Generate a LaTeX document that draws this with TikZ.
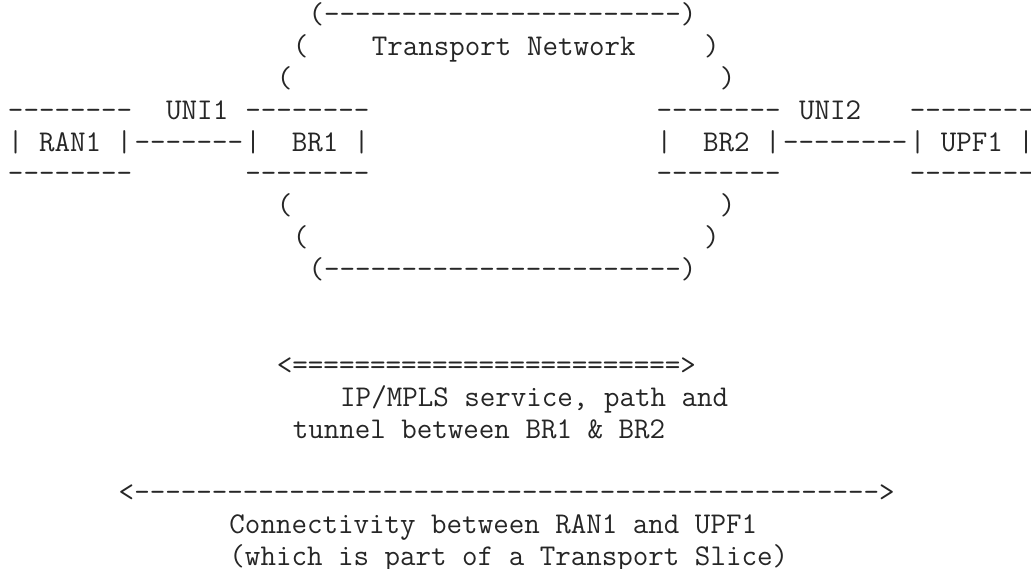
\documentclass[tikz,border=0pt]{standalone}
\usepackage{fontspec}
\frenchspacing
\begin{document}
\begin{tikzpicture}[x=1pt,y=1pt,
  txt/.style={anchor=base west,inner sep=0pt,outer sep=0pt,
    font=\ttfamily\fontsize{30.13}{31.9}\selectfont,text=black!85}]
% character grid: cell width, left offset, line pitch
\def\cw{15.82}\def\xo{8}\def\lh{31.9}
\newcommand\at[2]{({\xo+#1*\cw},{569-(23.5+(#2-1)*\lh)})}
\useasboundingbox (0,0) rectangle (1031,569);
\clip (0,0) rectangle (1031,569);
\fill[white] (0,0) rectangle (1031,569);
% transport network cloud
\node[txt] (ctop) at \at{19}{1} {(-----------------------)};
\node[txt] (cl2)  at \at{18}{2} {(};
\node[txt] (tn)   at \at{23}{2} {Transport Network};
\node[txt] (cr2)  at \at{44}{2} {)};
\node[txt] (cl3)  at \at{17}{3} {(};
\node[txt] (cr3)  at \at{45}{3} {)};
\node[txt] (cl7)  at \at{17}{7} {(};
\node[txt] (cr7)  at \at{45}{7} {)};
\node[txt] (cl8)  at \at{18}{8} {(};
\node[txt] (cr8)  at \at{44}{8} {)};
\node[txt] (cbot) at \at{19}{9} {(-----------------------)};
% boxes
\node[txt] (ran1t) at \at{0}{4} {--------};
\node[txt] (ran1)  at \at{0}{5} {| RAN1 |};
\node[txt] (ran1b) at \at{0}{6} {--------};
\node[txt] (br1t)  at \at{15}{4} {--------};
\node[txt] (br1)   at \at{15}{5} {|~~BR1 |};
\node[txt] (br1b)  at \at{15}{6} {--------};
\node[txt] (br2t)  at \at{41}{4} {--------};
\node[txt] (br2)   at \at{41}{5} {|~~BR2 |};
\node[txt] (br2b)  at \at{41}{6} {--------};
\node[txt] (upf1t) at \at{57}{4} {--------};
\node[txt] (upf1)  at \at{57}{5} {| UPF1 |};
\node[txt] (upf1b) at \at{57}{6} {--------};
% attachment links and their labels
\node[txt] (uni1) at \at{10}{4} {UNI1};
\node[txt] (lnk1) at \at{8}{5} {-------};
\node[txt] (uni2) at \at{50}{4} {UNI2};
\node[txt] (lnk2) at \at{49}{5} {--------};
% service between border routers
\node[txt] (svc)  at \at{17}{12} {<=========================>};
\node[txt] (svc1) at \at{21}{13} {IP/MPLS service, path and};
\node[txt] (svc2) at \at{18}{14} {tunnel between BR1 \& BR2};
% end-to-end connectivity
\node[txt] (conn)  at \at{7}{16} {<------------------------------------------------>};
\node[txt] (conn1) at \at{14}{17} {Connectivity between RAN1 and UPF1};
\node[txt] (conn2) at \at{14}{18} {(which is part of a Transport Slice)};
\end{tikzpicture}
\end{document}
